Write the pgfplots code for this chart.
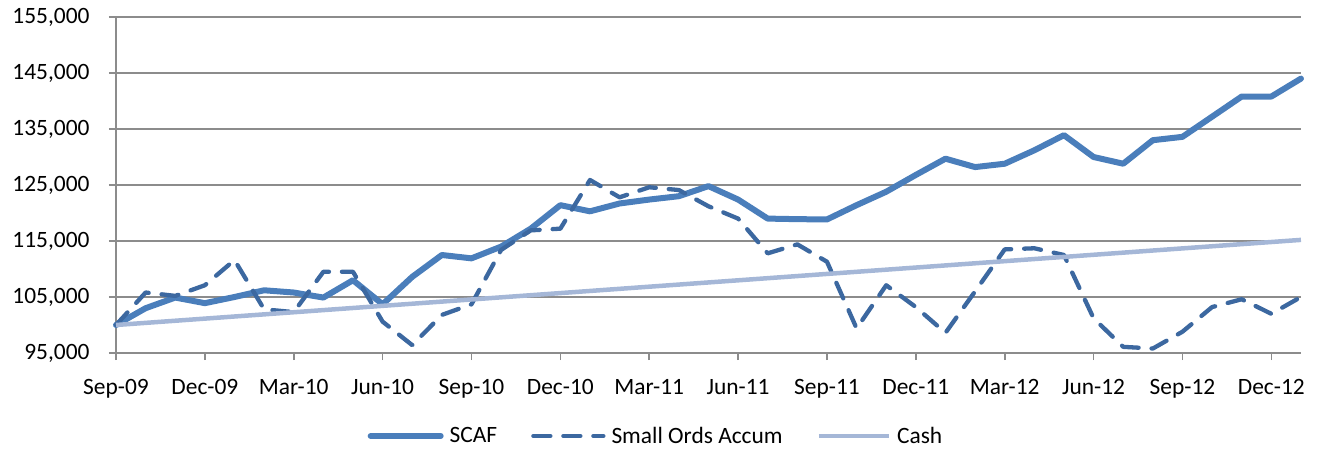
\documentclass[border=0pt]{standalone}
\usepackage{pgfplots}
\pgfplotsset{compat=1.18}
\usepackage{pgfplotstable}
\usepackage{fontspec}
\setmainfont{Carlito}
\definecolor{scaf}{HTML}{4A7EBB}
\definecolor{soa}{HTML}{3C68A0}
\definecolor{cash}{HTML}{A5B7D7}
\definecolor{gridc}{HTML}{8C8C8C}
\pgfplotstableread{
m scaf soa cash
0 100000 100000 100000
1 103000 105800 100380
2 104900 105200 100760
3 103900 107100 101140
4 105000 111600 101520
5 106200 102800 101900
6 105800 102300 102280
7 104900 109500 102660
8 108000 109500 103040
9 103700 100600 103420
10 108600 96400 103800
11 112500 101800 104180
12 111900 103700 104560
13 114000 113400 104940
14 117200 116900 105320
15 121400 117200 105700
16 120300 125900 106080
17 121700 122800 106460
18 122400 124600 106840
19 123000 124100 107220
20 124800 121200 107600
21 122400 119000 107980
22 119000 112800 108360
23 118900 114400 108740
24 118850 111300 109120
25 121400 99400 109500
26 123800 107100 109880
27 126800 103200 110260
28 129700 98600 110640
29 128200 106000 111020
30 128800 113500 111400
31 131200 113700 111780
32 133900 112500 112160
33 130000 101200 112540
34 128800 96100 112920
35 133000 95800 113300
36 133600 98800 113680
37 137200 103200 114060
38 140800 104600 114440
39 140800 102000 114820
40 144000 105000 115200
}\datatable
\begin{document}
\begin{tikzpicture}
\useasboundingbox (-116bp,-97bp) rectangle (1206bp,353bp);
\begin{axis}[
  at={(0,0)}, anchor=south west,
  scale only axis,
  width=1185bp, height=336bp,
  xmin=0, xmax=40, ymin=95000, ymax=155000,
  axis x line*=bottom, axis y line*=left,
  axis line style={draw=gridc, line width=1.6bp, -},
  xtick={0,3,...,39},
  xticklabels={Sep-09,Dec-09,Mar-10,Jun-10,Sep-10,Dec-10,Mar-11,Jun-11,Sep-11,Dec-11,Mar-12,Jun-12,Sep-12,Dec-12},
  ytick={95000,105000,...,155000},
  scaled y ticks=false,
  tick align=outside,
  major tick length=7bp,
  tick style={draw=gridc, line width=1.6bp},
  ymajorgrids,
  grid style={draw=gridc, line width=1.6bp},
  /pgf/number format/.cd, 1000 sep={,}, assume math mode=true, fixed,
  /pgfplots/.cd,
  tick label style={font=\fontsize{23.5}{28}\selectfont, text=black},
  xticklabel style={yshift=-16bp},
  yticklabel style={xshift=-16bp},
  legend style={draw=none, at={(0.4557,-0.247)}, anchor=center,
    font=\fontsize{23.5}{28}\selectfont, legend columns=3,
    /tikz/every odd column/.append style={column sep=4bp},
    /tikz/every even column/.append style={column sep=32bp}},
  legend image code/.code={\draw[#1] (0bp,0bp) -- (70bp,0bp);},
  clip=false,
]
\addplot[scaf, line width=6bp, line join=round, line cap=round] table[x=m, y=scaf] {\datatable};
\addlegendentry{SCAF}
\addplot[soa, line width=4.3bp, line join=round, line cap=round, dash pattern=on 17bp off 13bp] table[x=m, y=soa] {\datatable};
\addlegendentry{Small Ords Accum}
\addplot[cash, line width=4.5bp, line join=round] table[x=m, y=cash] {\datatable};
\addlegendentry{Cash}
\end{axis}
\end{tikzpicture}
\end{document}
